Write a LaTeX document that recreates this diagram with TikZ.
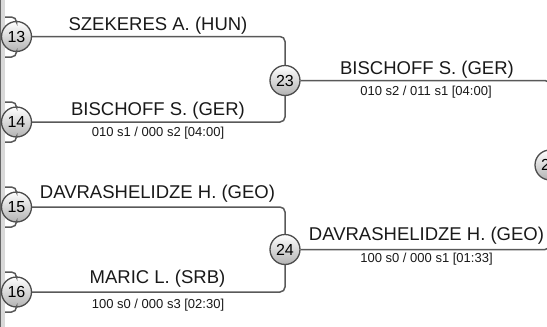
\documentclass[tikz,border=0pt]{standalone}
\usepackage{fontspec}
\setmainfont{Liberation Sans}
\begin{document}
\begin{tikzpicture}[x=1pt,y=-1pt,
  seedc/.style={circle, draw=black!70, line width=1.3pt, top color=white, bottom color=black!30,
    minimum size=30pt, inner sep=0pt, font=\fontsize{16}{16}\selectfont},
  connline/.style={draw=black!65, line width=1.5pt, rounded corners=5pt},
  plname/.style={font=\fontsize{18.5}{18.5}\selectfont, anchor=base, inner sep=0pt, text=black!90},
  scorelbl/.style={font=\fontsize{13}{13}\selectfont, inner sep=0pt, text=black!90}]
\useasboundingbox (0,0) rectangle (547,327);
% left band
\fill[black!15] (1,0) rectangle (5,327);
\draw[black!60, line width=1.2pt] (0.6,0) -- (0.6,327);
% circles
\node[seedc] (c13) at (16.5,36.5) {13};
\node[seedc] (c14) at (16.5,122) {14};
\node[seedc] (c15) at (16.5,207) {15};
\node[seedc] (c16) at (16.5,292) {16};
\node[seedc] (c23) at (285,80.5) {23};
\node[seedc] (c24) at (285,249.5) {24};
\node[seedc] (c28) at (550,165) {28};
% previous-round stubs
\coordinate (p13a) at (5,17);  \coordinate (p13b) at (5,57);
\coordinate (p14a) at (5,102); \coordinate (p14b) at (5,142);
\coordinate (p15a) at (5,187); \coordinate (p15b) at (5,227);
\coordinate (p16a) at (5,272); \coordinate (p16b) at (5,312);
\draw[connline] (p13a) -- (p13a -| c13) -- (c13);
\draw[connline] (p13b) -- (p13b -| c13) -- (c13);
\draw[connline] (p14a) -- (p14a -| c14) -- (c14);
\draw[connline] (p14b) -- (p14b -| c14) -- (c14);
\draw[connline] (p15a) -- (p15a -| c15) -- (c15);
\draw[connline] (p15b) -- (p15b -| c15) -- (c15);
\draw[connline] (p16a) -- (p16a -| c16) -- (c16);
\draw[connline] (p16b) -- (p16b -| c16) -- (c16);
% bracket connectors
\draw[connline] (c13) -- (c13 -| c23) -- (c23);
\draw[connline] (c14) -- (c14 -| c23) -- (c23);
\draw[connline] (c15) -- (c15 -| c24) -- (c24);
\draw[connline] (c16) -- (c16 -| c24) -- (c24);
\draw[connline] (c23) -- (c23 -| c28) -- (c28);
\draw[connline] (c24) -- (c24 -| c28) -- (c28);
% labels
\node[plname] (n1) at (158,30) {SZEKERES A. (HUN)};
\node[plname] (n2) at (158,115) {BISCHOFF S. (GER)};
\node[scorelbl] (s1) at (158,133) {010 s1 / 000 s2 [04:00]};
\node[plname] (n3) at (427,74) {BISCHOFF S. (GER)};
\node[scorelbl] (s3) at (426,92) {010 s2 / 011 s1 [04:00]};
\node[plname] (n4) at (157.5,198) {DAVRASHELIDZE H. (GEO)};
\node[plname] (n5) at (157.5,283) {MARIC L. (SRB)};
\node[scorelbl] (s5) at (158,305) {100 s0 / 000 s3 [02:30]};
\node[plname] (n6) at (426.5,240) {DAVRASHELIDZE H. (GEO)};
\node[scorelbl] (s6) at (426.5,259) {100 s0 / 000 s1 [01:33]};
\end{tikzpicture}
\end{document}
